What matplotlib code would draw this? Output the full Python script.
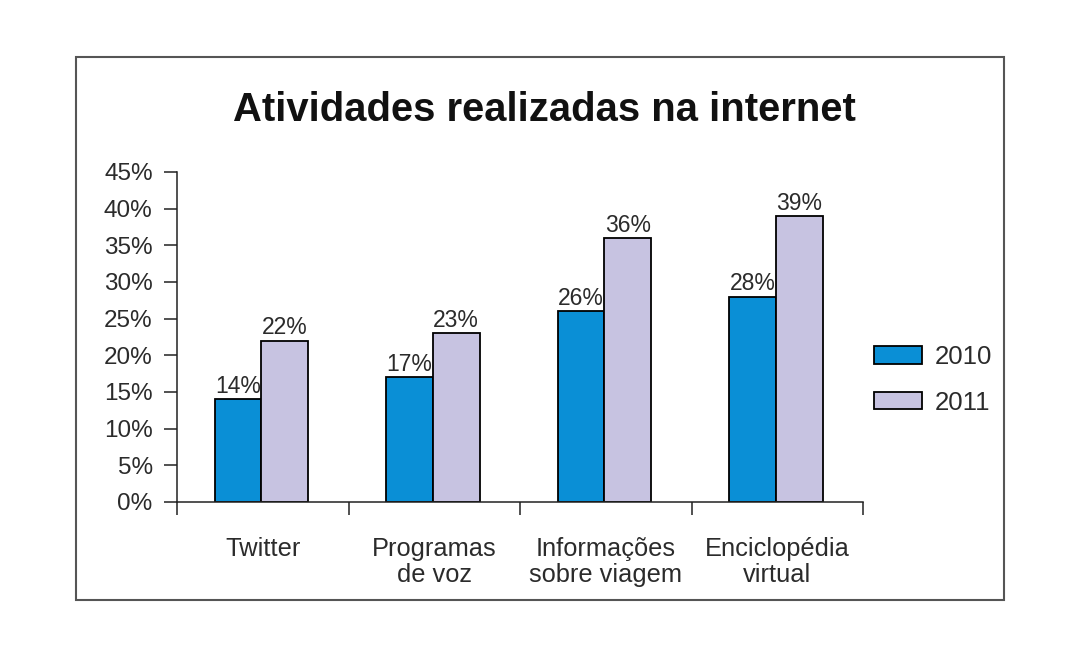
import matplotlib
matplotlib.use("Agg")
import matplotlib.pyplot as plt
from matplotlib.patches import Rectangle, Patch
import numpy as np

categories = ["Twitter", "Programas\nde voz", "Informações\nsobre viagem", "Enciclopédia\nvirtual"]
values_2010 = [14, 17, 26, 28]
values_2011 = [22, 23, 36, 39]
series_labels = ["2010", "2011"]
yticks = [0, 5, 10, 15, 20, 25, 30, 35, 40, 45]
title = "Atividades realizadas na internet"

color_2010 = "#0a8fd6"
color_2011 = "#c7c3e1"
text_color = "#2b2b2b"

plt.rcParams['font.family'] = ['Liberation Sans', 'DejaVu Sans']

fig = plt.figure(figsize=(10.8, 6.6), dpi=100)
fig.patch.set_facecolor("white")

# outer frame
fig.add_artist(Rectangle((76/1080, 1-600/660), 928/1080, 543/660,
                         transform=fig.transFigure, fill=False,
                         edgecolor="#555555", linewidth=1.5))

ax = fig.add_axes([177/1080, 1-502/660, (863-177)/1080, (502-172)/660])

x = np.arange(len(categories))
w = 0.272
b1 = ax.bar(x - w/2 - 0.008, values_2010, w, color=color_2010, edgecolor="black", linewidth=1.3, label=series_labels[0])
b2 = ax.bar(x + w/2 - 0.008, values_2011, w, color=color_2011, edgecolor="black", linewidth=1.3, label=series_labels[1])

for bars, vals in ((b1, values_2010), (b2, values_2011)):
    for r, v in zip(bars, vals):
        ax.annotate(f"{v}%", (r.get_x() + r.get_width()/2, r.get_height()),
                    xytext=(0, 1), textcoords="offset points",
                    ha="center", va="bottom", fontsize=16.5, color=text_color)

ax.set_xlim(-0.5, len(categories) - 0.5)
ax.set_ylim(0, 45)
ax.set_yticks(yticks)
ax.set_yticklabels([f"{t}%" for t in yticks])
ax.set_xticks(x)
ax.set_xticklabels(categories, linespacing=1.1)
ax.set_xticks(np.arange(-0.5, len(categories)), minor=True)

ax.tick_params(axis="y", direction="out", length=9.5, width=1.1, pad=8,
               labelsize=17.5, labelcolor=text_color, color="#222222")
ax.tick_params(axis="x", which="major", length=0, pad=25, labelsize=18.3, labelcolor=text_color)
ax.tick_params(axis="x", which="minor", direction="out", length=9.5, width=1.1, color="#222222")

for s in ("top", "right"):
    ax.spines[s].set_visible(False)
for s in ("left", "bottom"):
    ax.spines[s].set_linewidth(1.1)
    ax.spines[s].set_color("#222222")

fig.text(544/1080, 1-110/660, title, ha="center", va="center",
         fontsize=28.8, fontweight="bold", color="#111111")

handles = [Patch(facecolor=color_2010, edgecolor="black", linewidth=1.3),
           Patch(facecolor=color_2011, edgecolor="black", linewidth=1.3)]
fig.legend(handles, series_labels, loc="center left",
           bbox_to_anchor=(851/1080, 1-380/660), frameon=False,
           fontsize=18.5, handlelength=1.85, handleheight=0.65,
           labelspacing=0.85, handletextpad=0.5, labelcolor=text_color)

fig.savefig("out.png", dpi=100)
